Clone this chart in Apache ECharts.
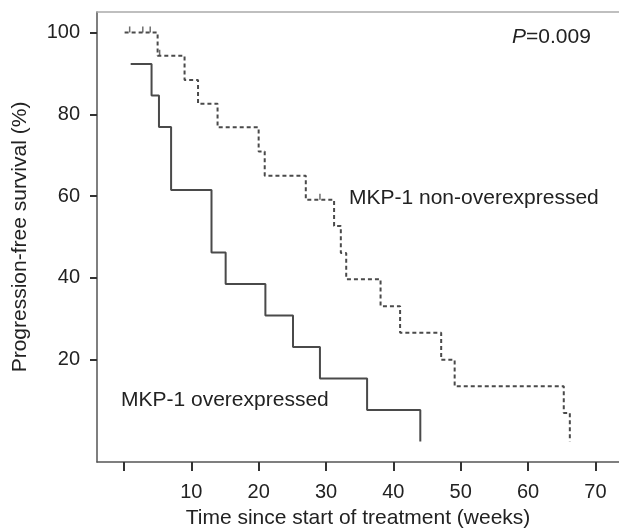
<!DOCTYPE html>
<html>
<head>
<meta charset="utf-8">
<script src="https://cdn.jsdelivr.net/npm/echarts@6/dist/echarts.min.js"></script>
<style>
  html, body { margin: 0; padding: 0; background: #fff; }
  #chart { width: 619px; height: 530px; }
</style>
</head>
<body>
<div id="chart"></div>
<script>
// 数据：周数 / 无进展生存率(%)
var overTimes = [1, 4.1, 5.2, 7, 13, 15.1, 21, 25.1, 29.1, 36.1, 44];
var overValues = [92.3, 84.6, 76.9, 61.5, 46.2, 38.5, 30.8, 23.1, 15.4, 7.7, 0];

var nonTimes = [0.1, 5, 9, 11, 13.9, 20, 20.9, 27, 31.2, 32.2, 33, 38.1, 41, 47.1, 49.1, 65.3, 66.2];
var nonValues = [100, 94.3, 88.4, 82.6, 76.8, 70.9, 65.0, 59.1, 52.7, 46.1, 39.7, 33.1, 26.6, 20.0, 13.5, 7.0, 0];

// 删失标记
var censorTimes = [0.85, 2.8, 3.9, 5.3, 29.1];
var censorValues = [100, 100, 100, 94.3, 59.1];

var xTicks = [0, 10, 20, 30, 40, 50, 60, 70];
var xLabels = [10, 20, 30, 40, 50, 60, 70];
var yTicks = [20, 40, 60, 80, 100];

var pairs = function (xs, ys) {
    return xs.map(function (x, i) { return [x, ys[i]]; });
};

var chart = echarts.init(document.getElementById('chart'));
var font = 'Liberation Sans, Arial, sans-serif';
var lineColor = '#4a4a4a';
var textColor = '#222';

chart.setOption({
    animation: false,
    grid: { left: 97, top: 12, right: 0, bottom: 68, containLabel: false, outerBoundsMode: 'none' },
    xAxis: [{
        type: 'value',
        min: -4,
        max: 73.5,
        splitLine: { show: false },
        axisLine: { onZero: false, lineStyle: { color: '#555', width: 1.5 } },
        axisTick: { customValues: xTicks, length: 9, lineStyle: { color: '#333', width: 2 } },
        axisLabel: { customValues: xLabels, fontFamily: font, fontSize: 20, color: textColor, margin: 20 },
        name: 'Time since start of treatment (weeks)',
        nameLocation: 'middle',
        nameGap: 46,
        nameTextStyle: { fontFamily: font, fontSize: 21, color: textColor }
    }, {
        type: 'value',
        position: 'top',
        min: -4,
        max: 73.5,
        splitLine: { show: false },
        axisLine: { show: true, onZero: false, lineStyle: { color: '#aaa', width: 1.5 } },
        axisTick: { show: false },
        axisLabel: { show: false }
    }],
    yAxis: {
        type: 'value',
        min: -5,
        max: 105,
        splitLine: { show: false },
        axisLine: { show: true, onZero: false, lineStyle: { color: '#555', width: 1.5 } },
        axisTick: { show: true, customValues: yTicks, length: 7, lineStyle: { color: '#333', width: 2 } },
        axisLabel: { customValues: yTicks, fontFamily: font, fontSize: 20, color: textColor, margin: 17 },
        name: 'Progression-free survival (%)',
        nameLocation: 'middle',
        nameGap: 66,
        nameTextStyle: { fontFamily: font, fontSize: 21, color: textColor }
    },
    series: [{
        name: 'MKP-1 overexpressed',
        type: 'line',
        step: 'end',
        symbol: 'none',
        data: pairs(overTimes, overValues),
        lineStyle: { color: lineColor, width: 2 }
    }, {
        name: 'MKP-1 non-overexpressed',
        type: 'line',
        step: 'end',
        symbol: 'none',
        data: pairs(nonTimes, nonValues),
        lineStyle: { color: lineColor, width: 2, type: [4, 3] }
    }, {
        name: 'censored',
        type: 'scatter',
        symbol: 'rect',
        symbolSize: [1.5, 6],
        symbolOffset: [0, -3],
        data: pairs(censorTimes, censorValues),
        itemStyle: { color: lineColor }
    }],
    graphic: [{
        type: 'text',
        left: 512,
        top: 27,
        style: {
            text: '{i|P}=0.009',
            font: '21px ' + font,
            fill: textColor,
            rich: { i: { fontStyle: 'italic', fontSize: 21, fontFamily: font, fill: textColor } }
        }
    }, {
        type: 'text',
        left: 349,
        top: 188,
        style: { text: 'MKP-1 non-overexpressed', font: '21px ' + font, fill: textColor }
    }, {
        type: 'text',
        left: 121,
        top: 390,
        style: { text: 'MKP-1 overexpressed', font: '21px ' + font, fill: textColor }
    }]
});
</script>
</body>
</html>
